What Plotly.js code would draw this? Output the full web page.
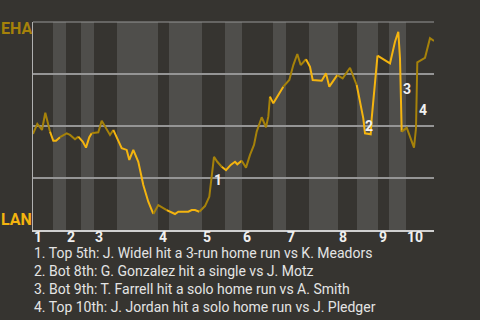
<!DOCTYPE html>
<html><head><meta charset="utf-8">
<script src="https://cdn.plot.ly/plotly-3.0.1.min.js"></script>
<style>html,body{margin:0;padding:0;background:#363430;}#chart{width:480px;height:320px;}</style>
</head><body><div id="chart"></div>
<script>
// Teams: top of chart (away, bats in top halves) and bottom (home)
const teams = ['EHA', 'LAN'];
const teamColors = ['#a6820a', '#f4b40f'];

// Start of each half inning along the game-progress axis
const halfStarts = [0, 20, 33, 48, 61, 84, 125, 136, 169, 192, 209, 240, 253, 276, 305, 324, 345, 356, 373];
const gameEnd = 401;
const inningLabels = ['1', '2', '3', '4', '5', '6', '7', '8', '9', '10'];

// Win probability for EHA along game progress
const progress = [0, 4.3, 9, 12.3, 14.3, 17, 20.3, 23, 27, 33.7, 37, 42, 45.3, 49.7, 53, 56.3, 58.7, 65.3, 68.7, 72,
  77, 80.3, 84.3, 88.7, 93.7, 96.3, 100.3, 105.3, 110.3, 115.3, 120.3, 125.3, 133.7, 142, 145.3, 155.3, 158.7, 162, 166.3, 172,
  176.3, 178.7, 181, 184.3, 188.7, 193, 197.7, 202, 204.3, 208.7, 212, 213, 217, 221, 223.7, 228.7, 233, 235.3, 237, 240.3,
  245.3, 250.3, 256.3, 260.3, 264.3, 267.7, 273, 277, 279.7, 288.7, 293, 296.3, 302, 304.3, 309.7, 317, 323.7, 327.7, 330.3, 332,
  337.7, 338.7, 342, 344.5, 357, 362, 365.3, 367, 368.7, 373.7, 377, 381, 383, 384.3, 392, 397, 401];
const winProb = [0.462, 0.510, 0.481, 0.564, 0.525, 0.473, 0.429, 0.429, 0.446, 0.465, 0.457, 0.436, 0.449, 0.425, 0.396, 0.446, 0.465, 0.470, 0.525, 0.497,
  0.457, 0.481, 0.436, 0.393, 0.385, 0.337, 0.385, 0.328, 0.216, 0.136, 0.077, 0.120, 0.096, 0.077, 0.088, 0.088, 0.096, 0.096, 0.088, 0.115,
  0.160, 0.256, 0.352, 0.328, 0.304, 0.288, 0.313, 0.328, 0.316, 0.333, 0.304, 0.300, 0.361, 0.409, 0.473, 0.542, 0.494, 0.545, 0.641, 0.609,
  0.649, 0.689, 0.721, 0.793, 0.846, 0.793, 0.821, 0.785, 0.721, 0.718, 0.753, 0.689, 0.729, 0.745, 0.729, 0.780, 0.697, 0.601, 0.537, 0.465,
  0.460, 0.537, 0.689, 0.838, 0.801, 0.905, 0.953, 0.825, 0.473, 0.492, 0.449, 0.396, 0.489, 0.806, 0.828, 0.922, 0.909];

// Key events
const eventLabels = ['1', '2', '3', '4'];
const eventX = [185, 336, 373.5, 389.5];
const eventY = [0.240, 0.500, 0.680, 0.575];
const eventText = [
  '1. Top 5th: J. Widel hit a 3-run home run vs K. Meadors',
  '2. Bot 8th: G. Gonzalez hit a single vs J. Motz',
  '3. Bot 9th: T. Farrell hit a solo home run vs A. Smith',
  '4. Top 10th: J. Jordan hit a solo home run vs J. Pledger'
];

const FONT = 'Roboto, "Noto Sans", sans-serif';
const GRID = '#959595';

// half inning index of each point
function halfOf(x) {
  let h = 0;
  for (let i = 0; i < halfStarts.length; i++) if (x >= halfStarts[i]) h = i;
  return h;
}
const traces = [];
let lastIdx = -1;
for (let h = 0; h < halfStarts.length; h++) {
  const xs = [], ys = [];
  if (lastIdx >= 0) { xs.push(progress[lastIdx]); ys.push(winProb[lastIdx]); }
  for (let i = 0; i < progress.length; i++) {
    if (halfOf(progress[i]) === h) { xs.push(progress[i]); ys.push(winProb[i]); lastIdx = i; }
  }
  if (xs.length > 1) {
    traces.push({x: xs, y: ys, type: 'scatter', mode: 'lines', hoverinfo: 'skip',
      line: {color: teamColors[h % 2], width: 2}});
  }
}

const shapes = [];
for (let h = 1; h < halfStarts.length; h += 2) {
  const x1 = h + 1 < halfStarts.length ? halfStarts[h + 1] : gameEnd;
  shapes.push({type: 'rect', xref: 'x', yref: 'paper', x0: halfStarts[h], x1: x1, y0: 0, y1: 1,
    fillcolor: '#4f4e4b', line: {width: 0}, layer: 'below'});
}
// top border line (grid line at 100%)
shapes.push({type: 'line', xref: 'paper', yref: 'paper', x0: 0, x1: 1, y0: 1, y1: 1,
  line: {color: GRID, width: 1.2}, layer: 'below'});

const annotations = [];
// team labels
annotations.push({xref: 'paper', yref: 'paper', x: 0, y: 1, xshift: -16.5, yshift: -6, xanchor: 'center', yanchor: 'middle',
  text: '<b>' + teams[0] + '</b>', showarrow: false, font: {family: FONT, size: 16, color: teamColors[0]}});
annotations.push({xref: 'paper', yref: 'paper', x: 0, y: 0, xshift: -16.5, yshift: 11, xanchor: 'center', yanchor: 'middle',
  text: '<b>' + teams[1] + '</b>', showarrow: false, font: {family: FONT, size: 16, color: teamColors[1]}});
// inning labels
for (let k = 0; k < inningLabels.length; k++) {
  annotations.push({xref: 'x', yref: 'paper', x: halfStarts[2 * k], y: 0, yshift: -7, xanchor: 'left', yanchor: 'middle',
    text: '<b>' + inningLabels[k] + '</b>', showarrow: false, borderpad: 0,
    font: {family: FONT, size: 14, color: '#f0f0f0'}});
}
// event markers
for (let k = 0; k < eventLabels.length; k++) {
  annotations.push({xref: 'x', yref: 'y', x: eventX[k], y: eventY[k], xanchor: 'center', yanchor: 'middle',
    text: '<b>' + eventLabels[k] + '</b>', showarrow: false,
    font: {family: FONT, size: 14, color: '#f0f0f0'}});
}
// footnotes
for (let k = 0; k < eventText.length; k++) {
  annotations.push({xref: 'paper', yref: 'paper', x: 0, y: 0, xshift: 0, yshift: -(23 + 18 * k), xanchor: 'left', yanchor: 'middle',
    text: eventText[k], showarrow: false, borderpad: 0,
    font: {family: FONT, size: 14, color: '#e4e4e4'}});
}

const layout = {
  width: 480, height: 320,
  margin: {l: 33, r: 46, t: 22, b: 90, pad: 0},
  paper_bgcolor: '#363430', plot_bgcolor: '#363430',
  showlegend: false,
  xaxis: {range: [0, gameEnd], showgrid: false, zeroline: false, showticklabels: false, ticks: '',
    showline: true, linecolor: '#d0d0d0', linewidth: 2, fixedrange: true},
  yaxis: {range: [0, 1], tickvals: [0, 0.25, 0.5, 0.75, 1], showticklabels: false, ticks: '',
    showgrid: true, gridcolor: GRID, gridwidth: 1.2, zeroline: false,
    showline: true, linecolor: '#b0b0b0', linewidth: 1.5, fixedrange: true},
  shapes: shapes,
  annotations: annotations
};
Plotly.newPlot('chart', traces, layout, {staticPlot: true, displayModeBar: false});
</script>
</body></html>
